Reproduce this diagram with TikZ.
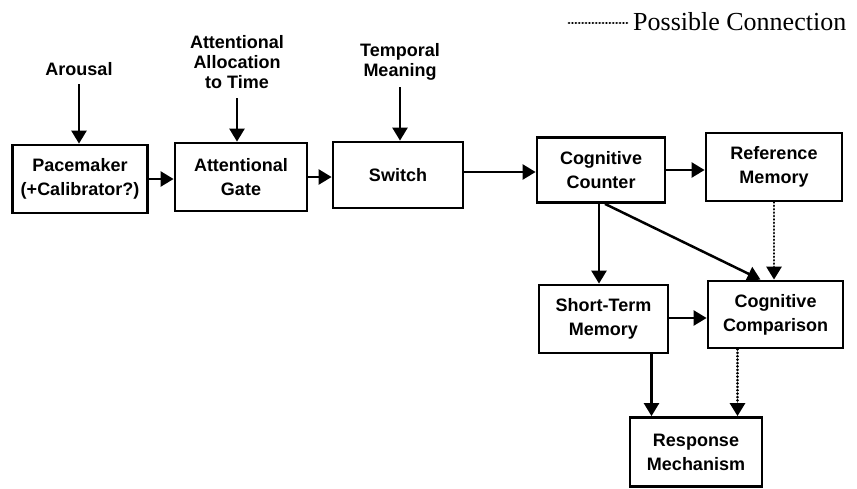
\documentclass[tikz,border=0pt]{standalone}
\usepackage{fontspec}
\setmainfont{Liberation Sans}
\newfontfamily\legendfont{Liberation Serif}
\usetikzlibrary{arrows.meta,calc}
\begin{document}
\begin{tikzpicture}[x=1pt,y=-1pt,
  box/.style={draw,line width=2.8pt,align=center,inner sep=0pt,
    font=\bfseries\fontsize{18}{24}\selectfont},
  lbl/.style={align=center,inner sep=0pt,font=\bfseries\fontsize{18}{20}\selectfont},
  arr/.style={line width=2.5pt,-{Triangle[width=15pt,length=13pt]}},
  dots/.style={line width=2.8pt,line cap=round,dash pattern=on 0.1pt off 3.3pt},
  darr/.style={arr,dots},
]
\useasboundingbox (0,0) rectangle (857,488);
% boxes
\node[box,minimum width=135pt,minimum height=68pt] (pm) at (80,179) {Pacemaker\\(+Calibrator?)};
\node[box,minimum width=132pt,minimum height=68pt] (gate) at (241,177) {Attentional\\Gate};
\node[box,minimum width=130pt,minimum height=66pt] (sw) at (398,175) {Switch};
\node[box,minimum width=128pt,minimum height=65pt] (cc) at (601,170) {Cognitive\\Counter};
\node[box,minimum width=136pt,minimum height=68pt] (ref) at (774,167) {Reference\\Memory};
\node[box,minimum width=129pt,minimum height=68pt] (stm) at (603.5,319) {Short-Term\\Memory};
\node[box,minimum width=135pt,minimum height=67pt] (cmp) at (775.5,314.5) {Cognitive\\Comparison};
\node[box,minimum width=132pt,minimum height=69pt] (resp) at (696,452) {Response\\Mechanism};
% input labels
\node[lbl,anchor=south] (ar) at (79,76) {Arousal};
\node[lbl,anchor=south] (aat) at (237,89) {Attentional\\Allocation\\to Time};
\node[lbl,anchor=south] (tm) at (400,81) {Temporal\\Meaning};
% legend
\coordinate (lg) at (569,23);
\node[anchor=west,inner sep=0pt,font=\legendfont\fontsize{26}{30}\selectfont] (lgt) at (633,22) {Possible Connection};
\draw[dots] (lg) -- ([xshift=-3pt]lgt.west |- lg);
% connectors
\draw[arr,shorten <=8pt] (ar.south) -- (ar.south |- pm.north);
\draw[arr,shorten <=9pt] (aat.south) -- (aat.south |- gate.north);
\draw[arr,shorten <=6pt] (tm.south) -- (tm.south |- sw.north);
\draw[arr] (pm.east) -- (pm.east -| gate.west);
\draw[arr] (gate.east) -- (gate.east -| sw.west);
\draw[arr] ([yshift=3pt]sw.east) -- ([yshift=3pt]sw.east -| cc.west);
\draw[arr] (cc.east) -- (cc.east -| ref.west);
\draw[arr] ([xshift=-2pt]cc.south) -- ([xshift=-2pt]cc.south |- stm.north);
\draw[arr] ([xshift=4pt]cc.south) -- ([xshift=-15pt]cmp.north);
\draw[darr] (ref.south) -- (ref.south |- cmp.north);
\draw[arr] ([yshift=1pt]stm.east) -- ([yshift=1pt]stm.east -| cmp.west);
\draw[arr] ([xshift=48pt]stm.south) -- ([xshift=48pt]stm.south |- resp.north);
\draw[darr] ([xshift=-38pt]cmp.south) -- ([xshift=-38pt]cmp.south |- resp.north);
\end{tikzpicture}
\end{document}
